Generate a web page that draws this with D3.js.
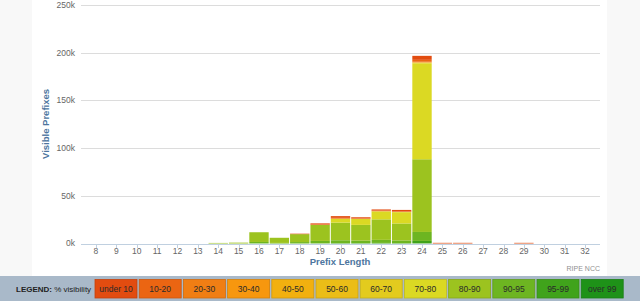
<!DOCTYPE html>
<html>
<head>
<meta charset="utf-8">
<script src="https://cdn.jsdelivr.net/npm/d3@7"></script>
<style>
  body { margin: 0; background: #f8f8f8; }
  svg { display: block; font-family: "Liberation Sans", Arial, sans-serif; }
</style>
</head>
<body>
<div id="chart"></div>
<script>
// categories: prefix length on the x axis
const prefixLengths = [8, 9, 10, 11, 12, 13, 14, 15, 16, 17, 18, 19, 20, 21, 22, 23, 24, 25, 26, 27, 28, 29, 30, 31, 32]
const yTicks = [0, 50000, 100000, 150000, 200000, 250000]

// visible prefixes per % visibility band (one value per prefix length, 8..32)
const under10  = [0, 0, 0, 0, 0, 0, 0, 0, 0, 0, 500, 1000, 1800, 1200, 1200, 1600, 4200, 700, 700, 0, 0, 700, 0, 0, 0]
const vis10_20 = [0, 0, 0, 0, 0, 0, 0, 0, 0, 0, 0, 600, 800, 500, 600, 500, 2000, 0, 0, 0, 0, 0, 0, 0, 0]
const vis20_30 = [0, 0, 0, 0, 0, 0, 0, 0, 0, 0, 0, 0, 0, 0, 0, 0, 500, 0, 0, 0, 0, 0, 0, 0, 0]
const vis30_40 = [0, 0, 0, 0, 0, 0, 0, 0, 0, 0, 0, 0, 0, 0, 0, 0, 300, 0, 0, 0, 0, 0, 0, 0, 0]
const vis40_50 = [0, 0, 0, 0, 0, 0, 0, 0, 0, 0, 0, 0, 0, 0, 0, 0, 200, 0, 0, 0, 0, 0, 0, 0, 0]
const vis50_60 = [0, 0, 0, 0, 0, 0, 0, 0, 0, 0, 0, 0, 0, 0, 0, 0, 200, 0, 0, 0, 0, 0, 0, 0, 0]
const vis60_70 = [0, 0, 0, 0, 0, 0, 0, 0, 0, 0, 0, 0, 400, 0, 400, 300, 400, 0, 0, 0, 0, 0, 0, 0, 0]
const vis70_80 = [0, 0, 0, 0, 0, 0, 0, 0, 0, 0, 0, 0, 3800, 6300, 8200, 11800, 100600, 0, 0, 0, 0, 0, 0, 0, 0]
const vis80_90 = [0, 0, 0, 0, 0, 0, 600, 900, 10200, 5400, 8300, 16800, 18500, 16500, 21500, 17800, 76200, 0, 0, 0, 0, 0, 0, 0, 0]
const vis90_95 = [0, 0, 0, 0, 0, 0, 0, 0, 1300, 600, 1500, 2400, 2900, 2500, 3200, 2700, 9400, 0, 0, 0, 0, 0, 0, 0, 0]
const vis95_99 = [0, 0, 0, 0, 0, 0, 0, 0, 300, 0, 0, 300, 500, 500, 600, 500, 2400, 0, 0, 0, 0, 0, 0, 0, 0]
const over99   = [0, 0, 0, 0, 0, 0, 0, 0, 0, 0, 0, 0, 0, 0, 0, 0, 300, 0, 0, 0, 0, 0, 0, 0, 0]

const bandNames = ['under 10', '10-20', '20-30', '30-40', '40-50', '50-60', '60-70', '70-80', '80-90', '90-95', '95-99', 'over 99']
const bandValues = [under10, vis10_20, vis20_30, vis30_40, vis40_50, vis50_60, vis60_70, vis70_80, vis80_90, vis90_95, vis95_99, over99]

const bandColors = ['#e24c10', '#eb6512', '#f07e14', '#f7970e', '#f2b00f', '#ebbd17', '#e3cb1e', '#dbd923',
                    '#9cc31f', '#6db521', '#40a31b', '#1e9218']

const width = 640
const height = 301

const svg = d3.select("#chart")
    .append("svg")
    .attr("width", width)
    .attr("height", height)

// white chart panel between the gray margins
svg.append("rect")
    .attr("x", 32).attr("y", 0)
    .attr("width", 575).attr("height", 276)
    .style("fill", "#fff")

const x = d3.scaleBand()
    .domain(prefixLengths)
    .range([85.8, 595.2])
    .padding(0)

const y = d3.scaleLinear()
    .domain([0, 250000])
    .range([243.5, 5])

// grid lines
svg.selectAll("line.grid")
    .data(yTicks)
    .enter()
    .append("line")
    .classed("grid", true)
    .attr("x1", 81).attr("x2", 600)
    .attr("y1", d => Math.round(y(d)) + 0.5)
    .attr("y2", d => Math.round(y(d)) + 0.5)
    .style("stroke", d => d === 0 ? "#c0d0e0" : "#dcdcdc")
    .style("stroke-width", 1)

// y labels
svg.selectAll("text.ylabel")
    .data(yTicks)
    .enter()
    .append("text")
    .classed("ylabel", true)
    .attr("x", 75)
    .attr("y", d => y(d))
    .attr("dy", "0.35em")
    .attr("text-anchor", "end")
    .style("font-size", "8.5px")
    .style("fill", "#666")
    .text(d => d / 1000 + "k")

// stacked bars, over 99 at the bottom, under 10 on top
const rows = prefixLengths.map((p, i) => {
    const row = { prefix: p }
    bandNames.forEach((name, j) => row[name] = bandValues[j][i])
    return row
})
const stack = d3.stack().keys(bandNames.slice().reverse())
const color = d3.scaleOrdinal().domain(bandNames).range(bandColors)

svg.selectAll("g.series")
    .data(stack(rows))
    .enter()
    .append("g")
    .classed("series", true)
    .style("fill", d => color(d.key))
    .selectAll("rect")
    .data(d => d.filter(s => s[1] > s[0]))
    .enter()
    .append("rect")
    .attr("x", d => x(d.data.prefix) + 0.5)
    .attr("width", x.bandwidth() - 1)
    .attr("y", d => y(d[1]))
    .attr("height", d => y(d[0]) - y(d[1]))

// x ticks and labels
svg.selectAll("line.xtick")
    .data(prefixLengths)
    .enter()
    .append("line")
    .classed("xtick", true)
    .attr("x1", d => Math.round(x(d) + x.bandwidth() / 2) + 0.5)
    .attr("x2", d => Math.round(x(d) + x.bandwidth() / 2) + 0.5)
    .attr("y1", 244).attr("y2", 248)
    .style("stroke", "#c0d0e0")

svg.selectAll("text.xlabel")
    .data(prefixLengths)
    .enter()
    .append("text")
    .classed("xlabel", true)
    .attr("x", d => x(d) + x.bandwidth() / 2)
    .attr("y", 254)
    .attr("text-anchor", "middle")
    .style("font-size", "8.5px")
    .style("fill", "#666")
    .text(d => d)

// axis titles
svg.append("text")
    .attr("x", 340).attr("y", 264.5)
    .attr("text-anchor", "middle")
    .style("font-size", "9.5px")
    .style("font-weight", "bold")
    .style("fill", "#4d759e")
    .text("Prefix Length")

svg.append("text")
    .attr("transform", "translate(48.5,124) rotate(-90)")
    .attr("text-anchor", "middle")
    .style("font-size", "9.5px")
    .style("font-weight", "bold")
    .style("fill", "#4d759e")
    .text("Visible Prefixes")

svg.append("text")
    .attr("x", 600).attr("y", 271)
    .attr("text-anchor", "end")
    .style("font-size", "7px")
    .style("fill", "#909090")
    .text("RIPE NCC")

// legend strip
svg.append("rect")
    .attr("x", 0).attr("y", 276)
    .attr("width", width).attr("height", 25)
    .style("fill", "#a9b9c9")

const legendText = svg.append("text")
    .attr("x", 16).attr("y", 292)
    .style("font-size", "8px")
    .style("fill", "#222")
legendText.append("tspan").style("font-weight", "bold").text("LEGEND:")
legendText.append("tspan").text(" % visibility")

const legend = svg.selectAll("g.legend")
    .data(bandNames)
    .enter()
    .append("g")
    .classed("legend", true)
    .attr("transform", (d, i) => `translate(${95 + i * 44.2},279.5)`)

legend.append("rect")
    .attr("width", 42)
    .attr("height", 18.5)
    .style("fill", d => color(d))
    .style("stroke", d => d3.color(color(d)).darker(0.4))
    .style("stroke-width", 0.8)

legend.append("text")
    .attr("x", 21).attr("y", 12.5)
    .attr("text-anchor", "middle")
    .style("font-size", "8.5px")
    .style("fill", "#2a2a2a")
    .text(d => d)
</script>
</body>
</html>
